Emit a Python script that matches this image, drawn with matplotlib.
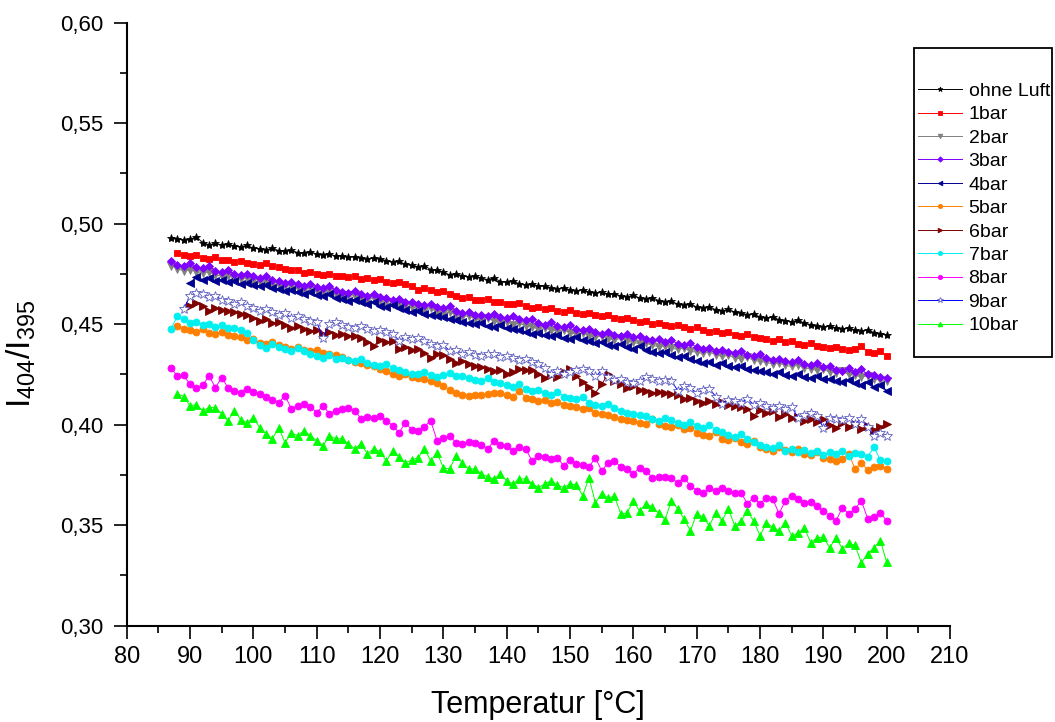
import matplotlib
matplotlib.use('Agg')
import matplotlib.pyplot as plt
import numpy as np
from matplotlib.patches import Rectangle
from matplotlib.ticker import MultipleLocator, FuncFormatter

# temperature grid in degC, series end at 200 and start at different values
temperatur = np.arange(87, 201)

ohne_luft = [
    .4930, .4925, .4918, .4922, .4935, .4905, .4895, .4902, .4893, .4900,
    .4888, .4885, .4892, .4878, .4876, .4870, .4878, .4866, .4862, .4868,
    .4856, .4852, .4860, .4848, .4845, .4850, .4838, .4840, .4832, .4836,
    .4828, .4822, .4830, .4826, .4815, .4808, .4812, .4798, .4792, .4786,
    .4790, .4772, .4768, .4760, .4745, .4752, .4740, .4735, .4742, .4728,
    .4722, .4730, .4712, .4708, .4715, .4700, .4695, .4702, .4688, .4690,
    .4680, .4674, .4682, .4670, .4666, .4672, .4660, .4655, .4658, .4648,
    .4652, .4640, .4636, .4644, .4630, .4625, .4632, .4617, .4610, .4614,
    .4600, .4595, .4602, .4585, .4580, .4586, .4572, .4566, .4574, .4560,
    .4555, .4548, .4552, .4535, .4530, .4536, .4522, .4518, .4512, .4520,
    .4505, .4498, .4490, .4485, .4492, .4480, .4476, .4482, .4470, .4465,
    .4472, .4458, .4452, .4448]
bar1 = [
    .4856, .4842, .4838, .4845, .4830, .4826, .4832, .4820, .4818, .4810,
    .4816, .4805, .4800, .4795, .4802, .4790, .4782, .4775, .4768, .4772,
    .4756, .4760, .4750, .4745, .4752, .4740, .4742, .4735, .4738, .4726,
    .4730, .4722, .4725, .4712, .4705, .4710, .4700, .4688, .4672, .4680,
    .4668, .4660, .4665, .4650, .4642, .4630, .4635, .4622, .4618, .4625,
    .4610, .4612, .4602, .4598, .4605, .4588, .4580, .4586, .4574, .4580,
    .4568, .4562, .4570, .4556, .4550, .4558, .4545, .4540, .4548, .4532,
    .4526, .4530, .4520, .4512, .4518, .4502, .4508, .4498, .4490, .4496,
    .4485, .4478, .4488, .4470, .4462, .4468, .4455, .4460, .4448, .4442,
    .4450, .4435, .4430, .4425, .4418, .4424, .4410, .4415, .4402, .4398,
    .4405, .4392, .4388, .4380, .4384, .4375, .4370, .4378, .4390, .4360,
    .4355, .4365, .4343]
bar2 = [
    .4790, .4776, .4766, .4770, .4762, .4755, .4760, .4745, .4738, .4742,
    .4730, .4725, .4728, .4715, .4710, .4716, .4700, .4695, .4688, .4692,
    .4678, .4672, .4680, .4665, .4660, .4666, .4650, .4645, .4638, .4642,
    .4628, .4622, .4630, .4615, .4608, .4600, .4605, .4590, .4585, .4580,
    .4572, .4578, .4562, .4555, .4560, .4545, .4538, .4542, .4528, .4522,
    .4530, .4515, .4508, .4512, .4498, .4505, .4490, .4485, .4478, .4482,
    .4470, .4465, .4472, .4458, .4450, .4455, .4442, .4436, .4440, .4428,
    .4422, .4430, .4415, .4410, .4402, .4408, .4395, .4388, .4392, .4380,
    .4375, .4382, .4366, .4360, .4355, .4362, .4348, .4340, .4345, .4332,
    .4328, .4335, .4320, .4315, .4310, .4302, .4308, .4295, .4290, .4296,
    .4282, .4278, .4270, .4275, .4262, .4258, .4265, .4250, .4245, .4238,
    .4242, .4228, .4222, .4215]
bar3 = [
    .4816, .4795, .4790, .4802, .4785, .4778, .4790, .4765, .4758, .4768,
    .4750, .4745, .4752, .4738, .4732, .4740, .4722, .4715, .4706, .4712,
    .4698, .4690, .4702, .4685, .4678, .4688, .4670, .4662, .4657, .4665,
    .4648, .4640, .4652, .4635, .4628, .4620, .4625, .4608, .4612, .4600,
    .4595, .4602, .4585, .4578, .4590, .4565, .4555, .4560, .4548, .4545,
    .4540, .4552, .4535, .4530, .4542, .4525, .4520, .4528, .4505, .4498,
    .4510, .4490, .4485, .4495, .4478, .4470, .4475, .4462, .4453, .4460,
    .4448, .4442, .4450, .4435, .4440, .4428, .4420, .4425, .4412, .4420,
    .4402, .4395, .4405, .4385, .4375, .4382, .4368, .4372, .4360, .4355,
    .4365, .4348, .4340, .4352, .4332, .4320, .4328, .4315, .4310, .4322,
    .4300, .4295, .4305, .4285, .4290, .4272, .4268, .4280, .4262, .4275,
    .4250, .4245, .4238, .4230]
bar4 = [
    .4705, .4735, .4722, .4728, .4715, .4720, .4708, .4716, .4700, .4705,
    .4695, .4688, .4695, .4680, .4674, .4667, .4672, .4658, .4652, .4660,
    .4645, .4640, .4648, .4632, .4625, .4617, .4622, .4608, .4600, .4610,
    .4592, .4585, .4595, .4580, .4570, .4560, .4565, .4550, .4545, .4540,
    .4535, .4528, .4520, .4512, .4508, .4500, .4506, .4492, .4488, .4495,
    .4480, .4475, .4470, .4462, .4453, .4458, .4445, .4440, .4448, .4432,
    .4428, .4435, .4420, .4415, .4408, .4412, .4398, .4392, .4400, .4385,
    .4378, .4390, .4372, .4362, .4355, .4360, .4345, .4338, .4342, .4325,
    .4318, .4305, .4310, .4298, .4305, .4290, .4285, .4292, .4278, .4272,
    .4268, .4260, .4254, .4262, .4248, .4242, .4250, .4238, .4232, .4240,
    .4225, .4228, .4218, .4212, .4220, .4205, .4198, .4210, .4185, .4195,
    .4170]
bar5 = [
    .4490, .4478, .4470, .4462, .4475, .4458, .4450, .4462, .4448, .4443,
    .4435, .4420, .4428, .4405, .4400, .4410, .4395, .4385, .4378, .4385,
    .4370, .4365, .4372, .4355, .4350, .4345, .4338, .4320, .4310, .4305,
    .4298, .4290, .4278, .4265, .4254, .4244, .4250, .4238, .4234, .4228,
    .4219, .4205, .4190, .4175, .4160, .4150, .4144, .4148, .4150, .4155,
    .4160, .4159, .4150, .4140, .4170, .4135, .4129, .4120, .4125, .4108,
    .4115, .4100, .4094, .4088, .4080, .4085, .4060, .4055, .4048, .4040,
    .4030, .4025, .4020, .4010, .4005, .4030, .4002, .3995, .3990, .4000,
    .3978, .3985, .3960, .3950, .3945, .3965, .3930, .3925, .3935, .3912,
    .3905, .3920, .3890, .3880, .3870, .3888, .3872, .3865, .3878, .3855,
    .3850, .3862, .3835, .3828, .3820, .3830, .3856, .3780, .3810, .3775,
    .3790, .3795, .3780]
bar6 = [
    .4592, .4607, .4590, .4567, .4580, .4570, .4567, .4560, .4552, .4545,
    .4530, .4517, .4525, .4505, .4510, .4495, .4483, .4490, .4475, .4468,
    .4472, .4453, .4460, .4448, .4450, .4440, .4443, .4430, .4410, .4393,
    .4420, .4410, .4418, .4378, .4385, .4370, .4378, .4355, .4333, .4350,
    .4348, .4325, .4308, .4315, .4300, .4290, .4285, .4279, .4265, .4270,
    .4254, .4262, .4279, .4270, .4272, .4250, .4234, .4245, .4238, .4260,
    .4279, .4240, .4210, .4185, .4159, .4200, .4254, .4215, .4200, .4184,
    .4190, .4175, .4169, .4159, .4165, .4160, .4154, .4148, .4129, .4135,
    .4120, .4110, .4120, .4105, .4112, .4100, .4094, .4090, .4080, .4045,
    .4075, .4060, .4070, .4040, .4055, .4035, .4040, .4020, .4030, .4015,
    .4030, .4000, .3985, .4010, .3990, .4005, .3980, .3995, .3975, .3990,
    .4005]
bar7 = [
    .4478, .4540, .4525, .4505, .4510, .4495, .4502, .4488, .4495, .4480,
    .4483, .4470, .4455, .4420, .4395, .4383, .4400, .4388, .4375, .4368,
    .4380, .4365, .4350, .4340, .4333, .4348, .4325, .4330, .4320, .4318,
    .4325, .4305, .4298, .4290, .4300, .4284, .4270, .4262, .4250, .4254,
    .4260, .4248, .4238, .4245, .4255, .4240, .4244, .4230, .4222, .4215,
    .4230, .4212, .4209, .4195, .4185, .4200, .4178, .4169, .4175, .4160,
    .4150, .4165, .4140, .4134, .4128, .4140, .4110, .4100, .4094, .4105,
    .4085, .4070, .4060, .4055, .4050, .4045, .4030, .4020, .4035, .4025,
    .4010, .4000, .4015, .3995, .3985, .3998, .3975, .3962, .3950, .3940,
    .3955, .3930, .3915, .3900, .3890, .3886, .3900, .3870, .3880, .3865,
    .3875, .3858, .3870, .3850, .3862, .3856, .3868, .3845, .3860, .3852,
    .3840, .3890, .3822, .3820]
bar8 = [
    .4284, .4240, .4245, .4200, .4180, .4195, .4244, .4184, .4234, .4184,
    .4170, .4159, .4179, .4165, .4154, .4140, .4125, .4110, .4144, .4080,
    .4095, .4104, .4090, .4060, .4094, .4055, .4070, .4078, .4085, .4070,
    .4030, .4040, .4035, .4045, .4020, .3995, .3960, .4010, .3975, .3970,
    .3990, .4020, .3920, .3935, .3945, .3910, .3905, .3912, .3908, .3900,
    .3880, .3920, .3900, .3895, .3870, .3890, .3880, .3820, .3846, .3840,
    .3830, .3836, .3796, .3825, .3806, .3800, .3790, .3836, .3770, .3810,
    .3820, .3790, .3780, .3756, .3786, .3770, .3736, .3740, .3738, .3736,
    .3711, .3736, .3697, .3672, .3662, .3687, .3672, .3687, .3670, .3662,
    .3662, .3607, .3637, .3607, .3637, .3632, .3557, .3622, .3647, .3632,
    .3610, .3615, .3597, .3572, .3547, .3522, .3587, .3557, .3580, .3622,
    .3532, .3540, .3562, .3522]
bar9 = [
    .4577, .4640, .4657, .4648, .4635, .4640, .4622, .4615, .4602, .4610,
    .4590, .4582, .4567, .4575, .4560, .4548, .4555, .4532, .4540, .4525,
    .4518, .4510, .4433, .4502, .4510, .4495, .4488, .4483, .4490, .4475,
    .4465, .4472, .4460, .4453, .4418, .4435, .4428, .4432, .4415, .4400,
    .4390, .4395, .4368, .4372, .4353, .4360, .4345, .4340, .4350, .4353,
    .4338, .4342, .4333, .4320, .4325, .4310, .4303, .4280, .4254, .4265,
    .4254, .4262, .4270, .4275, .4269, .4240, .4269, .4235, .4220, .4225,
    .4212, .4209, .4219, .4235, .4228, .4215, .4222, .4219, .4170, .4190,
    .4180, .4160, .4172, .4179, .4140, .4104, .4125, .4118, .4110, .4129,
    .4100, .4110, .4092, .4085, .4095, .4080, .4088, .4035, .4050, .4060,
    .4045, .3985, .4035, .4030, .4025, .4035, .4005, .4030, .3990, .3945,
    .3960, .3945]
bar10 = [
    .4154, .4140, .4094, .4100, .4070, .4085, .4085, .4055, .4020, .4070,
    .4025, .4010, .4035, .3985, .3955, .3930, .3985, .3910, .3960, .3945,
    .3970, .3945, .3920, .3896, .3945, .3930, .3930, .3905, .3880, .3905,
    .3856, .3880, .3865, .3820, .3870, .3840, .3810, .3825, .3836, .3880,
    .3820, .3860, .3786, .3780, .3846, .3810, .3780, .3780, .3756, .3740,
    .3730, .3756, .3720, .3706, .3730, .3730, .3706, .3687, .3705, .3721,
    .3700, .3687, .3705, .3700, .3647, .3736, .3612, .3657, .3635, .3645,
    .3557, .3560, .3622, .3570, .3607, .3590, .3560, .3527, .3622, .3582,
    .3532, .3472, .3557, .3540, .3497, .3562, .3522, .3582, .3497, .3520,
    .3572, .3520, .3448, .3512, .3490, .3472, .3512, .3448, .3460, .3487,
    .3413, .3438, .3440, .3388, .3438, .3383, .3410, .3400, .3313, .3358,
    .3388, .3423, .3315]

labels = ['ohne Luft', '1bar', '2bar', '3bar', '4bar', '5bar', '6bar',
          '7bar', '8bar', '9bar', '10bar']

plt.rcParams['font.family'] = ['Liberation Sans', 'DejaVu Sans']
plt.rcParams['mathtext.fontset'] = 'custom'
plt.rcParams['mathtext.rm'] = 'Liberation Sans'
plt.rcParams['mathtext.it'] = 'Liberation Sans'


def plot_series(ax):
    series = [ohne_luft, bar1, bar2, bar3, bar4, bar5, bar6, bar7, bar8, bar9, bar10]
    # color, marker, marker size, marker face, marker edge
    styles = [
        ('black', '*', 6, 'black', 'black'),
        ('#ff0000', 's', 4.5, '#ff0000', '#ff0000'),
        ('#808080', 'v', 5.5, '#808080', '#808080'),
        ('#8000ff', 'D', 4.5, '#8000ff', '#8000ff'),
        ('#000090', '<', 5.5, '#000090', '#000090'),
        ('#ff8000', 'o', 5, '#ff8000', '#ff8000'),
        ('#800000', '>', 5.5, '#800000', '#800000'),
        ('#00f0f0', 'o', 5, '#00f0f0', '#00f0f0'),
        ('#ff00ff', 'o', 5, '#ff00ff', '#ff00ff'),
        ('#0000ff', '*', 7, 'white', '#6060c0'),
        ('#00ff00', '^', 5.5, '#00ff00', '#00ff00'),
    ]
    handles = []
    for y, lab, (c, m, ms, mfc, mec) in zip(series, labels, styles):
        x = temperatur[-len(y):]
        h, = ax.plot(x, y, color=c, lw=0.7, marker=m, ms=ms, mfc=mfc, mec=mec,
                     mew=0.6, label=lab)
        handles.append(h)
    return handles


fig = plt.figure(figsize=(10.55, 7.22), dpi=100)
ax = fig.add_axes([0.1201, 0.1334, 0.7804, 0.8352])

handles = plot_series(ax)

ax.set_xlim(80, 210)
ax.set_ylim(0.30, 0.60)
ax.xaxis.set_major_locator(MultipleLocator(10))
ax.xaxis.set_minor_locator(MultipleLocator(5))
ax.yaxis.set_major_locator(MultipleLocator(0.05))
ax.yaxis.set_minor_locator(MultipleLocator(0.025))
ax.yaxis.set_major_formatter(FuncFormatter(lambda v, p: ('%.2f' % v).replace('.', ',')))

ax.spines['top'].set_visible(False)
ax.spines['right'].set_visible(False)
for s in ['left', 'bottom']:
    ax.spines[s].set_linewidth(1.5)
ax.tick_params(which='major', direction='out', length=9.5, width=1.2)
ax.tick_params(which='minor', direction='out', length=5, width=1.2)
ax.tick_params(axis='y', which='major', pad=7, labelsize=16)
ax.tick_params(axis='x', which='major', pad=5, labelsize=17)

ax.set_xlabel('Temperatur [°C]', fontsize=22, labelpad=16)
ax.set_ylabel(r'$\mathrm{I_{404}/I_{395}}$', fontsize=24)
ax.yaxis.set_label_coords(-0.108, 0.45)

leg = ax.legend(handles=handles, loc='upper left', bbox_to_anchor=(0.8701, 0.886),
                bbox_transform=fig.transFigure, frameon=False, fontsize=14,
                borderpad=0, borderaxespad=0, labelspacing=0.30, handlelength=2.25,
                handletextpad=0.35, markerscale=0.6, numpoints=1)
fig.add_artist(Rectangle((914.3 / 1055, 1 - 357 / 722), 137.4 / 1055, 309.3 / 722,
                         transform=fig.transFigure, fill=False, lw=1.3, ec='black'))

fig.savefig('out.png', dpi=100)
plt.close()
